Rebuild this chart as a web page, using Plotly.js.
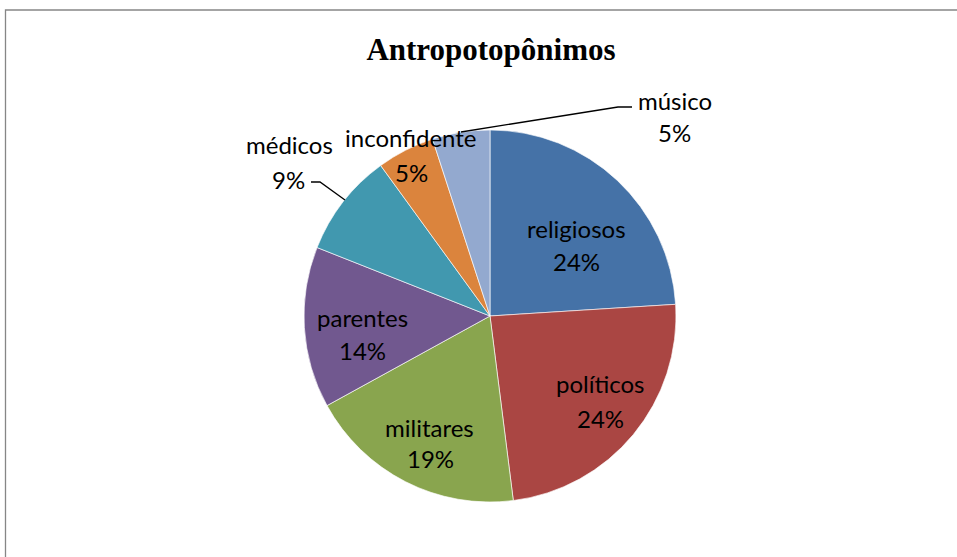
<!DOCTYPE html>
<html>
<head>
<meta charset="utf-8">
<script src="https://cdn.plot.ly/plotly-3.0.1.min.js"></script>
<style>
  html, body { margin: 0; padding: 0; background: #fff; }
  #chart { width: 957px; height: 557px; }
</style>
</head>
<body>
<div id="chart"></div>
<script>
// ---- data ----
const categories = ["religiosos", "políticos", "militares", "parentes", "médicos", "inconfidente", "músico"];
const values = [24, 24, 19, 14, 9, 5, 5];
const colors = ["#4572A7", "#AA4643", "#89A54E", "#71588F", "#4198AF", "#DB843D", "#93A9CF"];

// ---- layout helpers (pixel -> paper) ----
const W = 957, H = 557;
const px = x => x / W;
const py = y => 1 - y / H;

// label positions (centre of name line, centre of percent line), in pixels
const labelPos = [
  [[576, 228], [576, 262]],
  [[600, 383], [600, 418]],
  [[429, 427], [430, 458]],
  [[362, 317], [362, 350]],
  [[289, 145], [288, 179]],
  [[411, 138], [411, 172]],
  [[675, 100], [674, 133]]
];

const total = values.reduce((a, b) => a + b, 0);
const font = { family: "Lato, 'Open Sans', sans-serif", size: 24, color: "#000" };

const annotations = [];
categories.forEach((c, i) => {
  const pct = Math.round(values[i] / total * 100) + "%";
  annotations.push({ xref: "paper", yref: "paper", x: px(labelPos[i][0][0]), y: py(labelPos[i][0][1]),
    xanchor: "center", yanchor: "middle", text: c, showarrow: false, font: font });
  annotations.push({ xref: "paper", yref: "paper", x: px(labelPos[i][1][0]), y: py(labelPos[i][1][1]),
    xanchor: "center", yanchor: "middle", text: pct, showarrow: false, font: font });
});

function path(pts) {
  return pts.map((p, k) => (k ? "L" : "M") + px(p[0]).toFixed(5) + "," + py(p[1]).toFixed(5)).join(" ");
}

const shapes = [
  // chart border
  { type: "rect", xref: "paper", yref: "paper", x0: px(5.5), x1: px(W + 20), y0: py(H + 20), y1: py(10),
    line: { color: "#868686", width: 1.3 }, fillcolor: "rgba(0,0,0,0)" },
  // leader lines
  { type: "path", xref: "paper", yref: "paper", path: path([[461, 132], [618, 107], [632, 107]]),
    line: { color: "#000", width: 1.3 } },
  { type: "path", xref: "paper", yref: "paper", path: path([[311, 182], [320, 182], [345, 200]]),
    line: { color: "#000", width: 1.3 } }
];

const cx = 490, cy = 316, r = 186;

const trace = {
  type: "pie",
  labels: categories,
  values: values,
  sort: false,
  direction: "clockwise",
  rotation: 0,
  textinfo: "none",
  hoverinfo: "none",
  marker: { colors: colors, line: { color: "rgba(255,255,255,0.8)", width: 0.8 } },
  domain: { x: [px(cx - r), px(cx + r)], y: [py(cy + r), py(cy - r)] },
  showlegend: false
};

const layout = {
  width: W, height: H,
  margin: { l: 0, r: 0, t: 0, b: 0 },
  paper_bgcolor: "#fff",
  showlegend: false,
  title: { text: "<b>Antropotopônimos</b>", x: px(491), xanchor: "center", xref: "paper",
    y: py(49), yref: "container", yanchor: "middle",
    font: { family: "'Liberation Serif', 'Times New Roman', serif", size: 31, color: "#000" } },
  annotations: annotations,
  shapes: shapes
};

Plotly.newPlot("chart", [trace], layout, { displayModeBar: false, staticPlot: true });
</script>
</body>
</html>
